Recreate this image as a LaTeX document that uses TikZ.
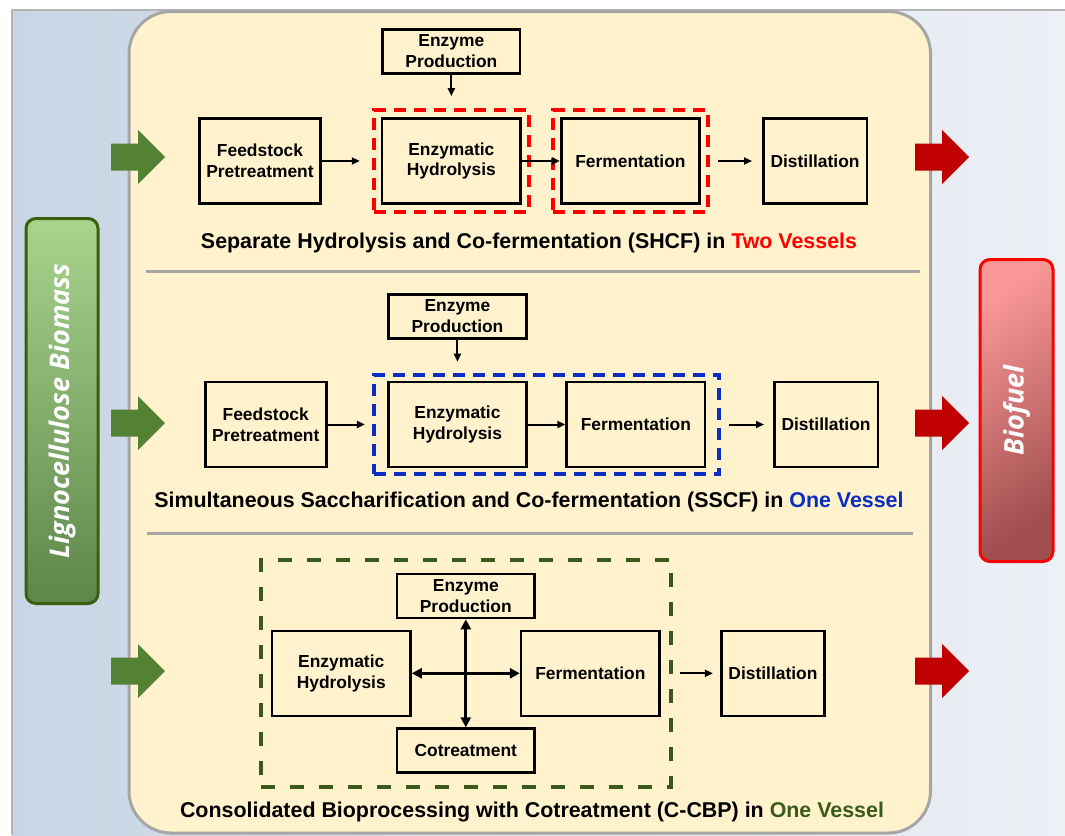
\documentclass[tikz,border=0pt]{standalone}
\usepackage{fontspec}
\setmainfont{Liberation Sans}
\newfontfamily\bannerfont{Open Sans}
\usepackage{graphicx}
\usetikzlibrary{arrows.meta, positioning, fit, backgrounds}

\definecolor{bgblue}{HTML}{C9D5E5}
\definecolor{bglight}{HTML}{EDF0F5}
\definecolor{panelfill}{HTML}{FFF2CC}
\definecolor{panelline}{HTML}{A6A6A6}
\definecolor{framegray}{HTML}{B4B4B4}
\definecolor{biomassgreen}{HTML}{548235}
\definecolor{biomassline}{HTML}{38600F}
\definecolor{biomasstop}{HTML}{A9D48D}
\definecolor{biomassbot}{HTML}{5C874A}
\definecolor{fuelred}{HTML}{C00000}
\definecolor{fuelline}{HTML}{FF0000}
\definecolor{fueltop}{HTML}{F99696}
\definecolor{fuelbot}{HTML}{A04E4E}
\definecolor{vesselred}{HTML}{FF0000}
\definecolor{vesselblue}{HTML}{0A2DC2}
\definecolor{vesselgreen}{HTML}{3A5A1C}

\begin{document}
\begin{tikzpicture}[
    x=1pt, y=-1pt,
    box/.style={rectangle, draw, line width=2.6pt, minimum width=138.5pt, minimum height=85pt, align=center, font=\fontsize{17.4}{20.8}\selectfont\bfseries},
    enzbox/.style={box, minimum width=137.5pt, minimum height=44pt},
    feedbox/.style={box, minimum width=121pt},
    distbox/.style={box, minimum width=103.5pt},
    vessel/.style={draw, line width=4pt, dash pattern=on 12pt off 8pt, inner sep=7pt},
    caption/.style={anchor=base, font=\fontsize{21.4}{25}\selectfont\bfseries},
    flow/.style={line width=2pt, -{Triangle[length=8pt, width=7pt]}},
    exchange/.style={line width=3pt, {Triangle[length=10pt, width=10pt]}-{Triangle[length=10pt, width=10pt]}},
    divider/.style={draw=panelline, line width=3pt},
    banner/.style={rounded corners=10pt, line width=3pt, text=white, font=\bannerfont\bfseries\itshape\fontsize{27}{32}\selectfont},
    greenblock/.style={fill=biomassgreen},
    redblock/.style={fill=fuelred}
]
\useasboundingbox (0,0) rectangle (1065,835);

% Background and panel
\fill[left color=bgblue, right color=bglight] (12,10) rectangle (1065,835);
\draw[framegray, line width=1.5pt] (12,835) -- (12,10) -- (1065,10);
\draw[draw=panelline, fill=panelfill, line width=3pt, rounded corners=42pt] (129,11.5) rectangle (930.5,833);

% Side banners
\node[banner, draw=biomassline, top color=biomasstop, bottom color=biomassbot, minimum width=72pt, minimum height=385pt] (biomass) at (62,411) {\rotatebox{90}{Lignocellulose Biomass}};
\node[banner, draw=fuelline, shading=axis, top color=fueltop, bottom color=fuelbot, shading angle=35, minimum width=73pt, minimum height=302pt] (biofuel) at (1016.5,410.5) {\rotatebox{90}{Biofuel}};

% SHCF row
\node[feedbox] (feed1) at (260,161) {Feedstock\\Pretreatment};
\node[box, right=59pt of feed1] (hydro1) {Enzymatic\\Hydrolysis};
\node[box, right=38pt of hydro1] (ferm1) {Fermentation};
\node[distbox, right=61pt of ferm1] (dist1) {Distillation};
\node[enzbox, above=42.5pt of hydro1] (enz1) {Enzyme\\Production};
\node[vessel, draw=vesselred, fit=(hydro1)] (vessel1a) {};
\node[vessel, draw=vesselred, fit=(ferm1)] (vessel1b) {};

\draw[flow, shorten >=12pt] (feed1) -- (vessel1a);
\draw[flow] (hydro1) -- (ferm1);
\draw[flow, shorten <=8pt, shorten >=10pt] (vessel1b) -- (dist1);
\draw[flow, shorten >=12pt] (enz1) -- (vessel1a);

\node[caption] (cap1) at (529,248) {Separate Hydrolysis and Co-fermentation (SHCF) in \textcolor{vesselred}{Two Vessels}};

\draw[divider] (146,271) -- (920,271);

% SSCF row
\node[feedbox] (feed2) at (265.7,424.5) {Feedstock\\Pretreatment};
\node[box, right=59.4pt of feed2] (hydro2) {Enzymatic\\Hydrolysis};
\node[box, right=37.3pt of hydro2] (ferm2) {Fermentation};
\node[distbox, right=66.6pt of ferm2] (dist2) {Distillation};
\node[enzbox, above=41pt of hydro2] (enz2) {Enzyme\\Production};
\node[vessel, draw=vesselblue, fit=(hydro2)(ferm2), inner xsep=13pt, inner ysep=6pt] (vessel2) {};

\draw[flow, shorten >=7pt] (feed2) -- (vessel2);
\draw[flow] (hydro2) -- (ferm2);
\draw[flow, shorten <=8pt, shorten >=9pt] (vessel2) -- (dist2);
\draw[flow, shorten >=11pt] (enz2) -- (enz2 |- vessel2.north);

\node[caption] (cap2) at (529,507) {Simultaneous Saccharification and Co-fermentation (SSCF) in \textcolor{vesselblue}{One Vessel}};

\draw[divider] (147,533) -- (913,533);

% C-CBP row
\coordinate (hub3) at (465.8,673.3);
\node[box, left=54pt of hub3] (hydro3) {Enzymatic\\Hydrolysis};
\node[box, right=54pt of hub3] (ferm3) {Fermentation};
\node[enzbox, above=54pt of hub3] (enz3) {Enzyme\\Production};
\node[enzbox, below=54pt of hub3] (cotr3) {Cotreatment};
\node[distbox, right=59pt of ferm3] (dist3) {Distillation};
\node[vessel, draw=vesselgreen, dash pattern=on 14pt off 15pt, fit=(hydro3)(ferm3)(enz3)(cotr3), inner xsep=9.7pt, inner ysep=12.7pt] (vessel3) {};

\draw[exchange] (hydro3) -- (ferm3);
\draw[exchange] (enz3) -- (cotr3);
\draw[flow, shorten <=7pt, shorten >=7pt] (vessel3) -- (dist3);

\node[caption] (cap3) at (532,817) {Consolidated Bioprocessing with Cotreatment (C-CBP) in \textcolor{vesselgreen}{One Vessel}};

% Block arrows in and out
\foreach \y in {157,423,671} {
  \fill[greenblock] (111,\y-13.5) -- (138,\y-13.5) -- (138,\y-27) -- (165,\y) -- (138,\y+27) -- (138,\y+13.5) -- (111,\y+13.5) -- cycle;
  \fill[redblock] (915,\y-13.5) -- (942,\y-13.5) -- (942,\y-27) -- (969,\y) -- (942,\y+27) -- (942,\y+13.5) -- (915,\y+13.5) -- cycle;
}

\end{tikzpicture}
\end{document}
